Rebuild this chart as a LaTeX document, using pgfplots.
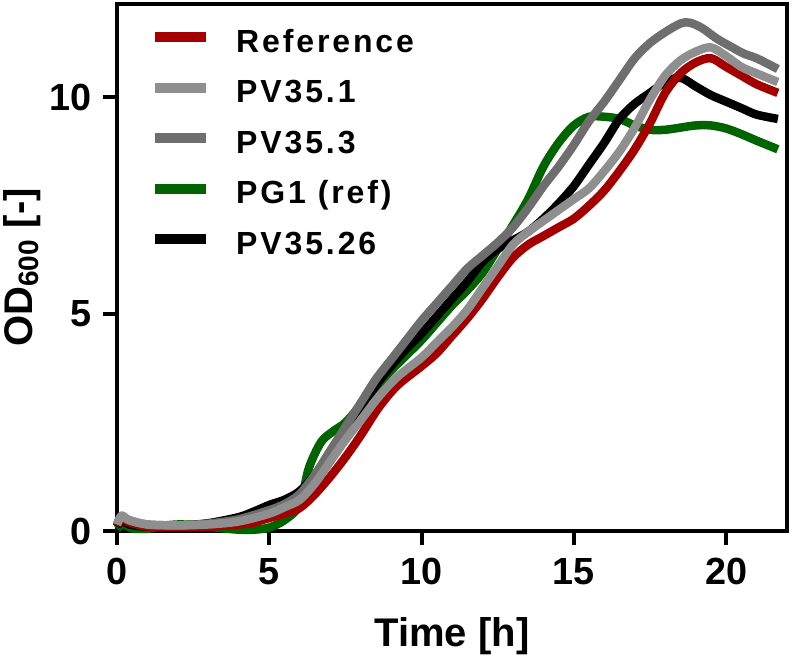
\documentclass[border=0pt]{standalone}
\usepackage{pgfplots}
\pgfplotsset{compat=1.18}
\usepackage{fontspec}
\setmainfont{Liberation Sans}
\newfontfamily\legfont{Liberation Sans}[LetterSpace=9]
\definecolor{cref}{RGB}{165,0,0}
\definecolor{cpvone}{RGB}{143,143,143}
\definecolor{cpvthree}{RGB}{110,110,110}
\definecolor{cpg}{RGB}{0,100,0}
\definecolor{cpvtsix}{RGB}{0,0,0}
\begin{document}
\begin{tikzpicture}
\begin{axis}[
  scale only axis, width=335pt, height=263.5pt,
  xmin=0, xmax=22, ymin=0, ymax=12.15,
  clip=false,
  axis line style={line width=2pt},
  xtick={0,5,10,15,20}, ytick={0,5,10},
  xtick pos=left, ytick pos=left,
  tick align=outside, major tick length=7pt,
  tick style={line width=2pt, black},
  /pgf/number format/assume math mode=true,
  tick label style={font=\bfseries\fontsize{18.9}{20}\selectfont},
  xticklabel style={anchor=north, inner sep=0pt, yshift=-6.5pt},
  yticklabel style={anchor=east, inner sep=0pt, xshift=-5.5pt},
  xlabel={Time [h]},
  ylabel={OD\textsubscript{600} [-]},
  label style={font=\bfseries\fontsize{20}{22}\selectfont},
  xlabel style={at={(axis description cs:0.5,0)}, anchor=north, inner sep=0pt, yshift=-43pt},
  ylabel style={at={(axis description cs:-0.1415,0.5)}, anchor=center},
  legend style={at={(axis description cs:0.049,0.951)}, anchor=north west,
    draw=none, fill=none, inner sep=0pt, row sep=10.25pt,
    font=\legfont\bfseries\fontsize{16}{16}\selectfont,
    nodes={inner sep=0pt, text height=11pt, text depth=4pt},
    /tikz/every odd column/.append style={column sep=12.5pt}},
  legend cell align=left,
  legend image code/.code={\draw[line width=5pt,#1] (0pt,4pt) -- (25.5pt,4pt);},
]
\coordinate (bl) at (rel axis cs:0,0);
\coordinate (tr) at (rel axis cs:1,1);
\addlegendimage{cref}\addlegendentry{Reference}
\addlegendimage{cpvone}\addlegendentry{PV35.1}
\addlegendimage{cpvthree}\addlegendentry{PV35.3}
\addlegendimage{cpg}\addlegendentry{PG1 (ref)}
\addlegendimage{cpvtsix}\addlegendentry{PV35.26}
% PG1 (ref)
\addplot[forget plot, cpg, line width=4.25pt, line join=round, smooth] coordinates {
(0,0.05) (0.2,0.15) (0.5,0.06) (1,0.05) (1.5,0.12) (2,0.15) (2.5,0.14) (3,0.1) (3.5,0.06) (4,0.03) (4.5,0.03) (5,0.08) (5.5,0.25) (6,0.6) (6.3,1.45) (6.7,2.05) (7.1,2.3) (7.5,2.5) (8,2.9) (8.5,3.3) (9,3.7) (9.5,4.05) (10,4.4) (10.5,4.8) (11,5.2) (11.5,5.55) (12,5.95) (12.5,6.5) (13,7.05) (13.5,7.65) (14,8.4) (14.5,8.95) (15,9.35) (15.5,9.55) (16,9.55) (16.5,9.5) (17,9.35) (17.5,9.25) (18,9.25) (18.5,9.3) (19,9.35) (19.5,9.35) (20,9.28) (20.5,9.15) (21,9.0) (21.7,8.8)
};
% PV35.26
\addplot[forget plot, cpvtsix, line width=4.25pt, line join=round, smooth] coordinates {
(0,0.1) (0.15,0.25) (0.4,0.15) (1,0.1) (2,0.12) (3,0.18) (4,0.32) (4.5,0.45) (5,0.6) (5.5,0.72) (6,0.92) (6.5,1.3) (7,1.75) (7.5,2.3) (8,2.85) (8.6,3.45) (9,3.8) (9.5,4.2) (10,4.55) (10.5,4.95) (11,5.35) (11.5,5.75) (12,6.2) (12.5,6.5) (13,6.7) (13.5,6.9) (14,7.2) (14.5,7.55) (15,7.95) (15.5,8.45) (16,8.95) (16.5,9.5) (17,9.85) (17.5,10.1) (18,10.35) (18.5,10.45) (19,10.25) (19.5,10.05) (20,9.9) (20.5,9.75) (21,9.6) (21.7,9.5)
};
% Reference
\addplot[forget plot, cref, line width=4.25pt, line join=round, smooth] coordinates {
(0,0.12) (0.15,0.28) (0.4,0.2) (1,0.1) (2,0.1) (3,0.1) (4,0.15) (4.5,0.2) (5,0.3) (5.5,0.4) (6,0.53) (6.5,0.85) (7,1.25) (7.5,1.7) (8,2.2) (8.6,2.85) (9.2,3.35) (10,3.8) (10.5,4.1) (11,4.5) (11.5,4.9) (12,5.35) (12.5,5.85) (13,6.3) (13.5,6.6) (14,6.8) (14.5,7.0) (15,7.2) (15.5,7.5) (16,7.85) (16.5,8.3) (17,8.8) (17.5,9.4) (18,10.1) (18.5,10.55) (19,10.8) (19.5,10.9) (20,10.7) (20.5,10.5) (21,10.3) (21.7,10.1)
};
% PV35.3
\addplot[forget plot, cpvthree, line width=4.25pt, line join=round, smooth] coordinates {
(0,0.15) (0.15,0.35) (0.4,0.25) (1,0.15) (2,0.13) (3,0.17) (4,0.27) (5,0.48) (5.5,0.62) (6,0.85) (6.5,1.3) (7,1.85) (7.5,2.4) (8,2.95) (8.5,3.5) (9,3.95) (9.5,4.4) (10,4.85) (10.5,5.25) (11,5.65) (11.5,6.05) (12,6.35) (12.5,6.65) (13,7.0) (13.5,7.45) (14,7.95) (14.5,8.4) (15,8.9) (15.5,9.45) (16,9.9) (16.5,10.4) (17,10.9) (17.5,11.25) (18,11.5) (18.5,11.7) (18.8,11.72) (19.2,11.6) (19.7,11.35) (20.2,11.15) (20.6,11.0) (21,10.9) (21.7,10.65)
};
% PV35.1
\addplot[forget plot, cpvone, line width=4.25pt, line join=round, smooth] coordinates {
(0,0.15) (0.15,0.35) (0.4,0.25) (1,0.15) (2,0.13) (3,0.15) (4,0.22) (5,0.4) (5.5,0.55) (6,0.72) (6.5,1.1) (7,1.6) (7.5,2.1) (8,2.55) (8.6,3.1) (9.2,3.55) (10,4.0) (10.5,4.35) (11,4.7) (11.5,5.1) (12,5.6) (12.5,6.1) (13,6.6) (13.5,6.9) (14,7.15) (14.5,7.4) (15,7.65) (15.5,7.9) (16,8.3) (16.5,8.75) (17,9.3) (17.5,9.95) (18,10.5) (18.5,10.85) (19,11.05) (19.5,11.15) (20,10.95) (20.5,10.7) (21,10.55) (21.7,10.35)
};
\end{axis}
\pgfresetboundingbox
\path[use as bounding box] ([xshift=-58.5pt,yshift=-62.5pt]bl) rectangle ([xshift=3pt,yshift=2pt]tr);
\end{tikzpicture}
\end{document}
